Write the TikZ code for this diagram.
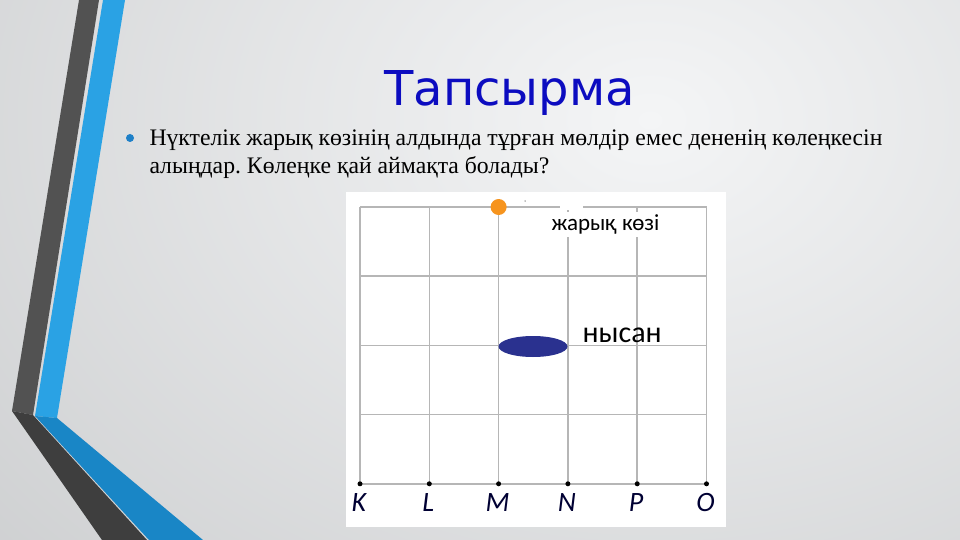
\documentclass[tikz,border=0pt]{standalone}
\usepackage{fontspec}
\setmainfont{Liberation Serif}
\newfontfamily\titlefont{DejaVu Sans}
\newfontfamily\labelfont{Carlito}
\usetikzlibrary{shapes.geometric}
\definecolor{titleblue}{RGB}{12,12,192}
\definecolor{bglight}{RGB}{244,245,246}
\definecolor{bgdark}{RGB}{176,178,180}
\definecolor{bandgray}{RGB}{82,82,82}
\definecolor{bandgraylow}{RGB}{62,62,62}
\definecolor{bandblue}{RGB}{42,162,228}
\definecolor{bandbluelow}{RGB}{25,134,198}
\definecolor{gridgray}{RGB}{182,182,182}
\definecolor{lampcol}{RGB}{246,148,30}
\definecolor{objblue}{RGB}{42,49,143}
\definecolor{bulletblue}{RGB}{30,128,200}
\frenchspacing

\begin{document}
\begin{tikzpicture}[x=1pt, y=-1pt,
  gridline/.style={gridgray, line width=1.6pt},
  dotpt/.style={circle, fill=black, inner sep=0pt, minimum size=5pt},
  letter/.style={font=\labelfont\itshape\fontsize{28}{28}\selectfont, text=black!80!blue, anchor=base}]
  \useasboundingbox (0,0) rectangle (960,540);
  % Background
  \begin{scope}
    \clip (0,0) rectangle (960,540);
    \shade[inner color=bglight, outer color=bgdark] (-950,-1080) rectangle (2250,1320);
  \end{scope}
  % Side bands
  \fill[bandgray] (79,0) -- (99,0) -- (33,415) -- (12,411) -- cycle;
  \fill[bandgraylow] (12,411) -- (33,415) -- (147,540) -- (102,540) -- cycle;
  \fill[bandblue] (103,0) -- (125,0) -- (57,418) -- (35,416) -- cycle;
  \fill[bandbluelow] (35,416) -- (57,418) -- (203,540) -- (149,540) -- cycle;
  % Title and task
  \node[anchor=base, text=titleblue, font=\titlefont\fontsize{48}{48}\selectfont] (title) at (509.5,105.7) {Тапсырма};
  \node[circle, fill=bulletblue, inner sep=0pt, minimum size=8pt] (bullet) at (130,138) {};
  \node[anchor=base west, font=\fontsize{23.7}{28}\selectfont] (line1) at (146,145.7) {Нүктелік жарық көзінің алдында тұрған мөлдір емес дененің көлеңкесін};
  \node[anchor=base west, font=\fontsize{23.7}{28}\selectfont] (line2) at (146,174) {алыңдар. Көлеңке қай аймақта болады?};
  % Grid
  \fill[white] (346,192) rectangle (726,527);
  \foreach \i in {0,...,5}
    \draw[gridline] (360+69.3*\i,207) -- (360+69.3*\i,483.8);
  \foreach \j in {0,...,4}
    \draw[gridline] (360,207+69.2*\j) -- (706.5,207+69.2*\j);
  \foreach \name [count=\i from 0] in {K,L,M,N,P,O} {
    \node[dotpt] (pt\name) at (360+69.3*\i,483.8) {};
    \node[letter] (lbl\name) at (359+69.3*\i,511) {\name};
  }
  % Light source and object
  \fill[white] (560,203) rectangle (583,210);
  \fill[white] (545,212) rectangle (662,237);
  \node[anchor=base west, font=\labelfont\fontsize{23}{23}\selectfont] (lamplabel) at (548,230) {жарық көзі};
  \node[circle, fill=lampcol, inner sep=0pt, minimum size=16pt] (lamp) at (498.6,207) {};
  \node[circle, fill=gray, inner sep=0pt, minimum size=1.5pt] (speck) at (525,201) {};
  \node[ellipse, fill=objblue, inner sep=0pt, minimum width=69pt, minimum height=21pt] (object) at (533,346.5) {};
  \node[anchor=base west, font=\labelfont\fontsize{30}{30}\selectfont] (objlabel) at (579,342) {нысан};
\end{tikzpicture}
\end{document}
